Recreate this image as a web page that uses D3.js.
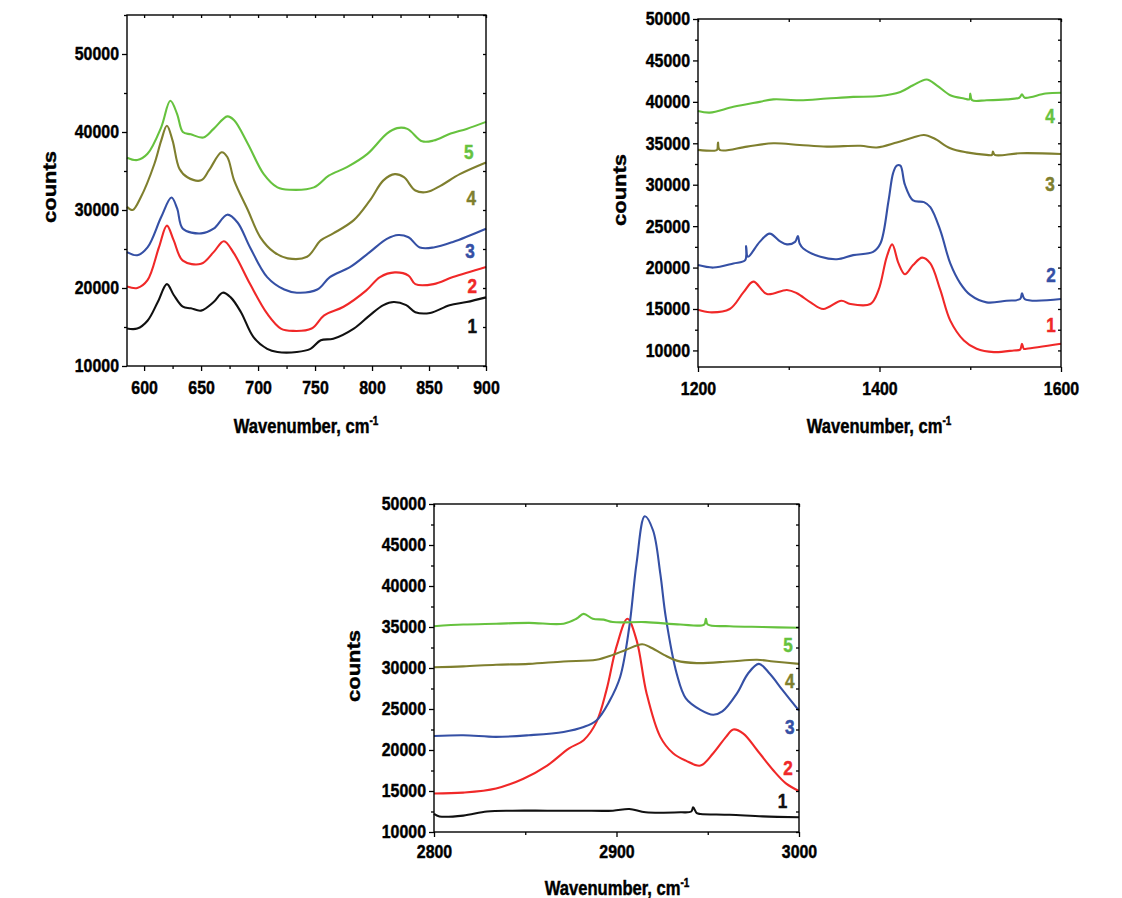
<!DOCTYPE html>
<html><head><meta charset="utf-8">
<script src="https://cdn.jsdelivr.net/npm/d3@7"></script>
<style>body{margin:0;background:#fff}svg{display:block}</style>
</head><body>
<svg id="c" width="1122" height="898"></svg>
<script>
// ---------- DATA ----------
const seriesNames = ["1","2","3","4","5"];
const p1Colors = ["#111111","#f02828","#3550a5","#7f7f2e","#66c23e"];
const p2Colors = ["#f02828","#3550a5","#7f7f2e","#66c23e"];
const p3Colors = ["#111111","#f02828","#3550a5","#7f7f2e","#66c23e"];

const p1XTicks = [600,650,700,750,800,850,900];
const p1XMinor = [625,675,725,775,825,875];
const p1YTicks = [10000,20000,30000,40000,50000];
const p1YMinor = [15000,25000,35000,45000,55000];
const p2XTicks = [1200,1400,1600];
const p2XMinor = [1300,1500];
const p2YTicks = [10000,15000,20000,25000,30000,35000,40000,45000,50000];
const p2YMinor = [12500,17500,22500,27500,32500,37500,42500,47500];
const p3XTicks = [2800,2900,3000];
const p3XMinor = [2850,2950];
const p3YTicks = [10000,15000,20000,25000,30000,35000,40000,45000,50000];
const p3YMinor = [12500,17500,22500,27500,32500,37500,42500,47500];

// Panel 1 (580-900 cm-1)
const p1_s1 = [[585,14800],[594,14800],[603,15800],[612,18200],[620,20500],[626,19100],[634,17600],[641,17400],[650,17100],[661,18200],[669,19400],[676,18800],[685,16900],[696,13700],[708,12200],[717,11800],[734,11800],[746,12200],[755,13300],[766,13500],[784,14800],[798,16500],[810,17800],[819,18200],[830,17800],[838,16900],[851,16800],[868,17800],[883,18200],[900,18800]];
const p1_s2 = [[585,20200],[594,20000],[603,21000],[613,25200],[620,28000],[626,26100],[634,23500],[650,23100],[661,24600],[670,26000],[679,24400],[693,20500],[708,16700],[720,14800],[731,14500],[747,14800],[758,16500],[775,17600],[795,19700],[807,21400],[820,22000],[832,21600],[838,20500],[854,20500],[871,21400],[900,22700]];
const p1_s3 = [[585,24600],[594,24200],[603,25200],[615,29100],[624,31600],[629,30200],[634,27600],[650,27000],[661,27600],[673,29400],[682,28400],[693,25200],[708,21400],[723,19800],[734,19400],[752,19800],[763,21400],[781,22700],[798,24600],[813,26300],[823,26800],[832,26500],[842,25200],[854,25200],[871,25900],[900,27600]];
const p1_s4 = [[585,30400],[590,30000],[597,31600],[609,35900],[615,38900],[620,40800],[625,38900],[631,35300],[638,34200],[650,33800],[657,35100],[668,37400],[673,36800],[679,33800],[691,30000],[702,26500],[714,24600],[726,23800],[743,24000],[755,26100],[766,27000],[784,28700],[798,31200],[810,33800],[820,34600],[828,34200],[838,32500],[848,32300],[860,33100],[877,34600],[900,36100]];
const p1_s5 = [[585,36700],[594,36400],[603,37200],[615,40600],[623,44000],[629,42300],[634,40000],[641,39700],[652,39300],[661,40400],[673,42000],[679,41500],[691,38500],[705,34600],[717,32900],[728,32600],[749,32900],[762,34400],[778,35500],[796,37200],[813,39800],[822,40500],[831,40400],[844,38800],[854,38900],[869,39800],[883,40400],[900,41300]];

// Panel 2 (1200-1600 cm-1)
const p2_s1 = [[1200,14900],[1213,14600],[1235,15000],[1250,17000],[1261,18300],[1276,16800],[1298,17300],[1309,16900],[1324,15800],[1338,15000],[1358,16000],[1368,15600],[1390,15600],[1399,17300],[1408,21300],[1414,22800],[1421,20500],[1428,19200],[1437,20300],[1447,21200],[1456,20500],[1467,17300],[1478,13600],[1493,11200],[1507,10200],[1526,9800],[1548,10000],[1555,10100],[1557,10800],[1559,10200],[1562,10200],[1600,10800]];
const p2_s2 = [[1200,20300],[1217,20000],[1239,20500],[1252,20900],[1253,22600],[1255,21300],[1268,23100],[1279,24100],[1290,23200],[1298,22800],[1307,23100],[1310,23800],[1312,22900],[1316,22300],[1335,21300],[1353,21000],[1371,21500],[1393,21900],[1401,22900],[1410,28100],[1415,31400],[1419,32300],[1423,32300],[1428,30000],[1437,28100],[1449,27900],[1456,27300],[1467,24500],[1478,20500],[1489,18100],[1500,16700],[1518,15800],[1540,16000],[1555,16200],[1557,16900],[1560,16200],[1600,16200]];
const p2_s3 = [[1200,34200],[1217,34100],[1221,34200],[1222,35100],[1224,34200],[1254,34600],[1283,35000],[1312,34800],[1342,34600],[1379,34700],[1397,34500],[1419,35100],[1437,35700],[1449,36000],[1460,35600],[1478,34400],[1496,33900],[1518,33600],[1524,33600],[1525,34000],[1527,33600],[1555,33800],[1600,33700]];
const p2_s4 = [[1200,38900],[1213,38700],[1239,39400],[1268,40000],[1283,40300],[1312,40200],[1342,40400],[1371,40600],[1400,40700],[1423,41200],[1437,42000],[1452,42700],[1463,42000],[1478,40800],[1493,40400],[1499,40300],[1500,41000],[1502,40200],[1518,40200],[1540,40300],[1554,40500],[1557,40900],[1560,40500],[1583,41000],[1600,41100]];

// Panel 3 (2800-3000 cm-1)
const p3_s1 = [[2800,12200],[2803,11900],[2816,12000],[2829,12500],[2843,12600],[2862,12600],[2880,12600],[2898,12600],[2907,12800],[2916,12400],[2935,12400],[2941,12500],[2942,13000],[2944,12300],[2946,12200],[2962,12100],[2980,11900],[3000,11800]];
const p3_s2 = [[2800,14700],[2816,14800],[2834,15300],[2849,16500],[2862,18100],[2874,20200],[2882,21200],[2889,23400],[2894.5,27300],[2900,32600],[2906,36000],[2911,33400],[2916.5,26900],[2924,21600],[2931,19600],[2938,18700],[2946,18100],[2953,19600],[2960,21600],[2964,22500],[2969.5,22000],[2977,20000],[2986,17500],[2993,15900],[3000,15000]];
const p3_s3 = [[2800,21700],[2816,21800],[2834,21600],[2852,21800],[2871,22200],[2882,22800],[2889,23600],[2896,25900],[2902,28900],[2907,35000],[2911,42800],[2915.5,48500],[2920,46800],[2924,41500],[2927,36200],[2933,29300],[2938,26300],[2946,24900],[2953,24300],[2958,24700],[2966,26900],[2972,29300],[2978,30500],[2984,29300],[2991,27300],[3000,24800]];
const p3_s4 = [[2800,30100],[2816,30200],[2834,30400],[2852,30500],[2871,30800],[2889,31000],[2898,31600],[2905,32200],[2914,32900],[2918,32600],[2926,31600],[2933,30900],[2944,30600],[2962,30800],[2977,31000],[2986,30800],[3000,30500]];
const p3_s5 = [[2800,35100],[2816,35300],[2834,35400],[2852,35500],[2871,35400],[2878,36000],[2882,36600],[2887,36000],[2893,35900],[2898,35600],[2916,35600],[2935,35300],[2948,35300],[2949,36000],[2950,35300],[2962,35100],[2980,35000],[3000,34900]];

// series label anchors (data coordinates)
const p1LabelPos = [[888,14200],[888,19400],[886,23800],[887,30700],[885,36600]];
const p2LabelPos = [[1589,12200],[1589,18300],[1588,29300],[1588,37400]];
const p3LabelPos = [[2991,12900],[2994,17000],[2995,22000],[2995,27600],[2994,31900]];

const xTitle = "Wavenumber, cm";
const xTitleSup = "-1";
const yTitle = "counts";

// ---------- DRAW ----------
const svg = d3.select("#c");
const FONT = "'Liberation Sans', Arial, Helvetica, sans-serif";
const SX = 0.86;

function boldText(sel, size) {
  sel.attr("font-family", FONT).attr("font-weight", "bold").attr("font-size", size)
     .attr("stroke-width", 0.45).attr("paint-order", "stroke");
}

function panel(cfg) {
  const x = d3.scaleLinear().domain(cfg.xDomain).range([cfg.left, cfg.right]);
  const y = d3.scaleLinear().domain(cfg.yDomain).range([cfg.bottom, cfg.top]);
  const g = svg.append("g");

  const line = d3.line().x(d => x(d[0])).y(d => y(d[1])).curve(d3.curveCatmullRom.alpha(0.5));
  cfg.series.forEach((s, i) => {
    g.append("path").datum(s).attr("d", line)
      .attr("fill", "none").attr("stroke", cfg.colors[i])
      .attr("stroke-width", 2.1).attr("stroke-linejoin", "round");
  });

  const styleAxis = sel => {
    sel.selectAll("line").attr("stroke", "#000").attr("stroke-width", 1.3);
    sel.select(".domain").remove();
  };
  const gb = g.append("g").attr("transform", `translate(0,${cfg.bottom})`)
    .call(d3.axisBottom(x).tickValues(cfg.xTicks).tickSize(5).tickSizeOuter(0).tickPadding(cfg.xPad).tickFormat(d3.format("d")));
  styleAxis(gb);
  gb.selectAll("text").call(boldText, 18.5).attr("fill", "#000").attr("stroke", "#000")
    .attr("transform", `scale(${SX},1)`);
  const gbm = g.append("g").attr("transform", `translate(0,${cfg.bottom})`)
    .call(d3.axisBottom(x).tickValues(cfg.xMinor).tickSize(3).tickSizeOuter(0).tickFormat(""));
  styleAxis(gbm);
  const gt = g.append("g").attr("transform", `translate(0,${cfg.top})`)
    .call(d3.axisBottom(x).tickValues(cfg.xTicks.concat(cfg.xMinor)).tickSize(3).tickSizeOuter(0).tickFormat(""));
  styleAxis(gt);
  const gl = g.append("g").attr("transform", `translate(${cfg.left},0)`)
    .call(d3.axisLeft(y).tickValues(cfg.yTicks).tickSize(5).tickSizeOuter(0).tickPadding(3).tickFormat(d3.format("d")));
  styleAxis(gl);
  gl.selectAll("text").call(boldText, 18.5).attr("fill", "#000").attr("stroke", "#000")
    .attr("x", -8 / SX).attr("transform", `scale(${SX},1)`);
  const glm = g.append("g").attr("transform", `translate(${cfg.left},0)`)
    .call(d3.axisLeft(y).tickValues(cfg.yMinor.filter(v => v <= cfg.yDomain[1])).tickSize(3).tickSizeOuter(0).tickFormat(""));
  styleAxis(glm);
  const gr = g.append("g").attr("transform", `translate(${cfg.right},0)`)
    .call(d3.axisLeft(y).tickValues(cfg.yTicks.concat(cfg.yMinor).filter(v => v <= cfg.yDomain[1])).tickSize(3).tickSizeOuter(0).tickFormat(""));
  styleAxis(gr);

  g.append("rect").attr("x", cfg.left).attr("y", cfg.top)
    .attr("width", cfg.right - cfg.left).attr("height", cfg.bottom - cfg.top)
    .attr("fill", "none").attr("stroke", "#000").attr("stroke-width", 1.4);

  cfg.labelPos.forEach((p, i) => {
    g.append("g").attr("transform", `translate(${x(p[0])},${y(p[1])}) scale(${SX},1)`)
      .append("text").attr("text-anchor", "middle").call(boldText, 20)
      .attr("fill", cfg.colors[i]).attr("stroke", cfg.colors[i]).text(seriesNames[i]);
  });

  const xt = g.append("g").attr("transform", `translate(${cfg.xTitle[0]},${cfg.xTitle[1]}) scale(0.83,1)`)
    .append("text").attr("text-anchor", "middle").call(boldText, 20)
    .attr("fill", "#000").attr("stroke", "#000");
  xt.append("tspan").text(xTitle);
  xt.append("tspan").attr("dy", -8).attr("font-size", 12).text(xTitleSup);

  g.append("g").attr("transform", `translate(${cfg.yTitle[0]},${cfg.yTitle[1]}) scale(${SX},1) rotate(-90)`)
    .append("text").attr("text-anchor", "middle").call(boldText, 22)
    .attr("fill", "#000").attr("stroke", "#000")
    .text(yTitle);
}

panel({
  left: 127, right: 486, top: 15, bottom: 366,
  xDomain: [585, 900], yDomain: [10000, 55000],
  xTicks: p1XTicks, xMinor: p1XMinor, yTicks: p1YTicks, yMinor: p1YMinor,
  series: [p1_s1, p1_s2, p1_s3, p1_s4, p1_s5], colors: p1Colors,
  labelPos: p1LabelPos, xPad: 10,
  xTitle: [306, 433], yTitle: [56, 187]
});
panel({
  left: 698, right: 1061, top: 19, bottom: 367,
  xDomain: [1200, 1600], yDomain: [8000, 50000],
  xTicks: p2XTicks, xMinor: p2XMinor, yTicks: p2YTicks, yMinor: p2YMinor,
  series: [p2_s1, p2_s2, p2_s3, p2_s4], colors: p2Colors,
  labelPos: p2LabelPos, xPad: 10,
  xTitle: [879, 433], yTitle: [626, 190]
});
panel({
  left: 434, right: 799, top: 504, bottom: 832,
  xDomain: [2800, 3000], yDomain: [10000, 50000],
  xTicks: p3XTicks, xMinor: p3XMinor, yTicks: p3YTicks, yMinor: p3YMinor,
  series: [p3_s1, p3_s2, p3_s3, p3_s4, p3_s5], colors: p3Colors,
  labelPos: p3LabelPos, xPad: 8,
  xTitle: [617, 895], yTitle: [360, 666]
});
</script>
</body></html>
